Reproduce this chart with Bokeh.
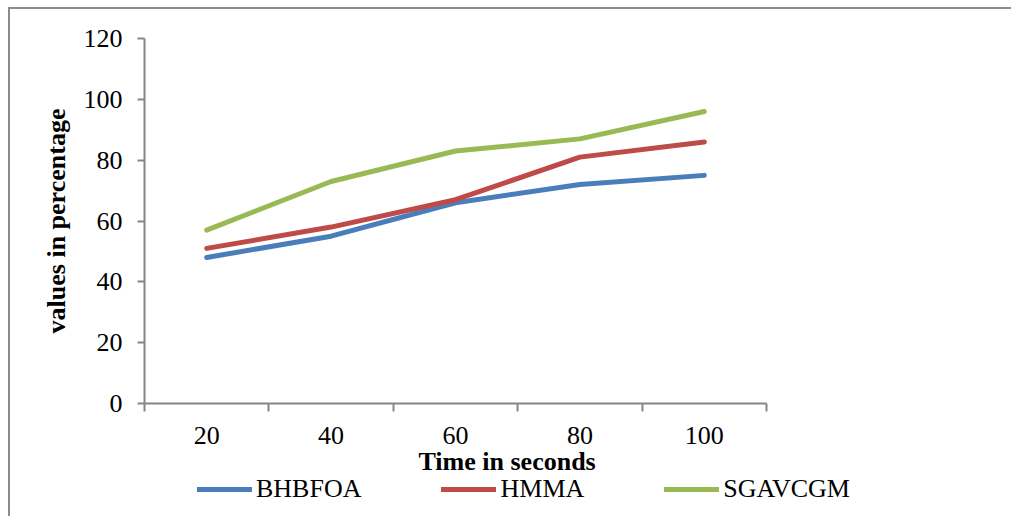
from bokeh.plotting import figure
from bokeh.models import (Range1d, FixedTicker, Legend, LegendItem, Title)
from bokeh.embed import file_html
from bokeh.resources import INLINE

times = [20, 40, 60, 80, 100]
x_bounds = [10, 30, 50, 70, 90, 110]
y_ticks = [0, 20, 40, 60, 80, 100, 120]
bhbfoa = [48, 55, 66, 72, 75]
hmma = [51, 58, 67, 81, 86]
sgavcgm = [57, 73, 83, 87, 96]
series = [("BHBFOA", bhbfoa, "#4A7EBB"), ("HMMA", hmma, "#BE4B48"), ("SGAVCGM", sgavcgm, "#98B954")]

FONT = "Liberation Serif"
AX = "#868686"
BORDER = "2px solid #8c8c8c"
OX, OY = 10, 9  # outer frame offset (margin + border)
SPLIT = 477     # window y where the legend strip starts

p = figure(width=1013 - OX, height=SPLIT - OY, output_backend="svg", toolbar_location=None,
           x_range=Range1d(10, 110), y_range=Range1d(0, 120),
           min_border_left=144 - OX, min_border_right=247, min_border_top=38 - OY,
           min_border_bottom=SPLIT - 404)
p.styles = {"margin-left": "8px", "margin-top": "7px", "border-left": BORDER, "border-top": BORDER}
p.outline_line_color = None
p.xgrid.visible = False
p.ygrid.visible = False
p.background_fill_color = "white"
p.border_fill_color = "white"

xa = p.xaxis[0]
xa.ticker = FixedTicker(ticks=times, minor_ticks=x_bounds)
xa.axis_line_color = AX
xa.axis_line_width = 2
xa.major_tick_line_color = None
xa.major_tick_out = 0
xa.major_tick_in = 0
xa.minor_tick_line_color = AX
xa.minor_tick_line_width = 2
xa.minor_tick_out = 8
xa.minor_tick_in = 0
xa.major_label_standoff = 15
xa.major_label_text_font = FONT
xa.major_label_text_font_size = "26px"
xa.major_label_text_color = "black"

ya = p.yaxis[0]
ya.ticker = FixedTicker(ticks=y_ticks)
ya.axis_line_color = AX
ya.axis_line_width = 2
ya.major_tick_line_color = AX
ya.major_tick_line_width = 2
ya.major_tick_out = 7
ya.major_tick_in = 0
ya.minor_tick_line_color = None
ya.major_label_standoff = 15
ya.major_label_text_font = FONT
ya.major_label_text_font_size = "26px"
ya.major_label_text_color = "black"
ya.axis_label = "values in percentage"
ya.axis_label_text_font = FONT
ya.axis_label_text_font_size = "26px"
ya.axis_label_text_font_style = "bold"
ya.axis_label_text_color = "black"
ya.axis_label_standoff = 10

for name, vals, col in series:
    p.line(times, vals, line_color=col, line_width=5, line_cap="round", line_join="round")

p.add_layout(Title(text="Time in seconds", align="left", offset=274, standoff=0,
                   vertical_align="top",
                   text_font=FONT, text_font_size="26px", text_font_style="bold",
                   text_color="black"), "below")

# legend strip: a separate pixel-space figure below the chart
q = figure(width=1013 - OX, height=518 - SPLIT, output_backend="svg", toolbar_location=None,
           x_range=Range1d(OX, 1013), y_range=Range1d(518, SPLIT),
           x_axis_type=None, y_axis_type=None, min_border=0)
q.styles = {"margin-left": "8px", "border-left": BORDER}
q.outline_line_color = None
q.xgrid.visible = False
q.ygrid.visible = False
q.background_fill_color = "white"
q.border_fill_color = "white"

items = []
for name, vals, col in series:
    # same series, outside this strip's visible range: only the legend glyph shows
    r = q.line(times, vals, line_color=col, line_width=5, line_cap="round")
    items.append(LegendItem(label=name, renderers=[r]))

lg = Legend(items=items, location=(197 - OX, 12), orientation="horizontal", padding=0, margin=0,
            spacing=80, border_line_color=None, background_fill_alpha=0,
            glyph_width=55, glyph_height=20, label_standoff=4,
            label_text_font=FONT, label_text_font_size="26px", label_text_color="black")
q.add_layout(lg, "center")

open("out.html", "w").write(file_html([p, q], INLINE))
